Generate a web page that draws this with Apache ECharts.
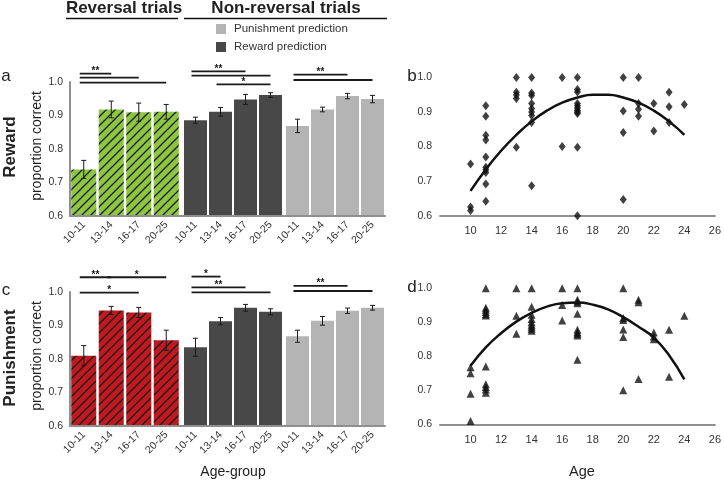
<!DOCTYPE html>
<html><head><meta charset="utf-8">
<script src="https://cdn.jsdelivr.net/npm/echarts@6/dist/echarts.min.js"></script>
<style>html,body{margin:0;padding:0;background:#fff}#c{width:724px;height:481px}</style>
</head><body><div id="c"></div>
<script>
// ---------- DATA ----------
const ageGroups = ['10-11', '13-14', '16-17', '20-25'];

// Panel a: Reward
const rewardReversal      = [0.739, 0.918, 0.910, 0.911];
const rewardReversalErr   = [0.027, 0.025, 0.027, 0.022];
const rewardRewardPred    = [0.886, 0.911, 0.948, 0.961];
const rewardRewardPredErr = [0.009, 0.013, 0.015, 0.007];
const rewardPunishPred    = [0.869, 0.918, 0.958, 0.949];
const rewardPunishPredErr = [0.020, 0.007, 0.008, 0.011];
// significance: [fromGroup, toGroup, level]
const sigRewardReversal      = [[0, 1, 1.025], [0, 2, 1.013], [0, 3, 0.998]];
const sigRewardReversalLbl   = ['**', '', ''];
const sigRewardRewardPred    = [[0, 2, 1.032], [0, 3, 1.019], [1, 3, 0.993]];
const sigRewardRewardPredLbl = ['**', '', '*'];
const sigRewardPunishPred    = [[0, 2, 1.022], [0, 3, 1.006]];
const sigRewardPunishPredLbl = ['**', ''];

// Panel c: Punishment
const punishReversal      = [0.810, 0.945, 0.939, 0.856];
const punishReversalErr   = [0.030, 0.012, 0.015, 0.030];
const punishRewardPred    = [0.835, 0.913, 0.953, 0.941];
const punishRewardPredErr = [0.027, 0.011, 0.010, 0.009];
const punishPunishPred    = [0.868, 0.914, 0.944, 0.953];
const punishPunishPredErr = [0.018, 0.013, 0.008, 0.007];
const sigPunishReversal      = [[0, 1, 1.044], [1, 3, 1.044], [0, 2, 0.998]];
const sigPunishReversalLbl   = ['**', '*', '*'];
const sigPunishRewardPred    = [[0, 1, 1.046], [0, 2, 1.014], [0, 3, 0.999]];
const sigPunishRewardPredLbl = ['*', '**', ''];
const sigPunishPunishPred    = [[0, 2, 1.018], [0, 3, 1.003]];
const sigPunishPunishPredLbl = ['**', ''];

// Panel b: Reward scatter (age, proportion correct)
const rewardAges   = [10,10,10, 11,11,11,11,11,11,11,11,11,11, 13,13,13,13,13, 14,14,14,14,14,14,14,14,14, 16,16, 17,17,17,17,17,17,17,17,17,17,17, 20,20,20,20, 21,21,21,21, 22,22, 23,23,23, 24];
const rewardScores = [0.750,0.625,0.615, 0.918,0.888,0.833,0.819,0.770,0.740,0.733,0.725,0.692,0.642, 1.000,0.957,0.949,0.939,0.798, 1.000,0.955,0.948,0.925,0.910,0.900,0.890,0.870,0.687, 1.000,0.800, 1.000,0.965,0.958,0.925,0.918,0.912,0.905,0.900,0.896,0.798,0.600, 1.000,0.903,0.841,0.647, 1.000,0.925,0.908,0.888, 0.925,0.845, 0.957,0.915,0.870, 0.922];
const rewardFitAges = [10,11,12,13,14,15,16,17,18,19,20,21,22,23,24];
const rewardFitVals = [0.672,0.734,0.788,0.834,0.873,0.904,0.927,0.942,0.950,0.950,0.942,0.927,0.904,0.873,0.834];

// Panel d: Punishment scatter
const punishAges   = [10,10,10,10, 11,11,11,11,11,11,11,11,11,11,11, 13,13,13, 14,14,14,14,14,14,14,14,14, 16,16,16, 17,17,17,17,17,17,17,17,17,17, 20,20,20,20,20,20, 21,21,21, 22,22,22, 23,23, 24];
const punishScores = [0.768,0.750,0.690,0.610, 1.000,0.943,0.937,0.930,0.924,0.920,0.770,0.718,0.710,0.702,0.693, 1.000,0.919,0.866, 1.000,0.946,0.922,0.910,0.900,0.893,0.887,0.881,0.875, 1.000,0.951,0.905, 1.000,0.966,0.961,0.956,0.925,0.878,0.871,0.866,0.861,0.790, 1.000,0.913,0.907,0.879,0.857,0.700, 0.966,0.959,0.733, 0.870,0.858,0.850, 0.878,0.740, 0.919];
const punishFitAges = [10,11,12,13,14,15,16,17,18,19,20,21,22,23,24];
const punishFitVals = [0.772,0.826,0.868,0.902,0.928,0.946,0.956,0.958,0.952,0.938,0.915,0.887,0.855,0.803,0.732];

const yTicks = [0.6, 0.7, 0.8, 0.9, 1.0];
const ageTicks = [10, 12, 14, 16, 18, 20, 22, 24, 26];

// ---------- STYLE ----------
const FONT = "'Liberation Sans', Arial, Helvetica, sans-serif";
const AXIS_GRAY = '#8f8f8f';
const TXT = '#333333';
const GREEN = '#8dc641';
const RED = '#c0191f';
const DARK = '#484848';
const LIGHT = '#b4b4b4';

function hatch(bg) {
  const s = 9;
  const c = document.createElement('canvas');
  c.width = s; c.height = s;
  const g = c.getContext('2d');
  g.fillStyle = bg; g.fillRect(0, 0, s, s);
  g.strokeStyle = '#1a1a1a'; g.lineWidth = 1.25;
  g.beginPath();
  g.moveTo(0, s); g.lineTo(s, 0);
  g.moveTo(-2, 2); g.lineTo(2, -2);
  g.moveTo(s - 2, s + 2); g.lineTo(s + 2, s - 2);
  g.stroke();
  return { image: c, repeat: 'repeat' };
}

function errorBar(params, api) {
  const x = api.value(0);
  const lo = api.coord([x, api.value(1)]);
  const hi = api.coord([x, api.value(2)]);
  const w = 2.5;
  const st = { stroke: '#1a1a1a', lineWidth: 1 };
  return { type: 'group', children: [
    { type: 'line', shape: { x1: lo[0], y1: lo[1], x2: hi[0], y2: hi[1] }, style: st },
    { type: 'line', shape: { x1: lo[0] - w, y1: lo[1], x2: lo[0] + w, y2: lo[1] }, style: st },
    { type: 'line', shape: { x1: hi[0] - w, y1: hi[1], x2: hi[0] + w, y2: hi[1] }, style: st }
  ]};
}

function makeSig(labels) {
  return function (params, api) {
    const y = api.value(2);
    const p1 = api.coord([api.value(0), y]);
    const p2 = api.coord([api.value(1), y]);
    const x1 = p1[0] - 4, x2 = p2[0];
    const children = [
      { type: 'line', shape: { x1: x1, y1: p1[1], x2: x2, y2: p1[1] }, style: { stroke: '#1a1a1a', lineWidth: 1.8 } }
    ];
    const lbl = labels[params.dataIndex];
    if (lbl) {
      children.push({ type: 'text', x: (x1 + x2) / 2, y: p1[1] - 2.5,
        style: { text: lbl, font: 'bold 10px ' + FONT, fill: '#1a1a1a', textAlign: 'center', textVerticalAlign: 'middle' } });
    }
    return { type: 'group', children: children };
  };
}

const grids = [], xAxes = [], yAxes = [], series = [];

function barPanel(top, sets) {
  const base = grids.length;
  grids.push({ left: 70, top: top, width: 315, height: 134 });
  xAxes.push({ gridIndex: base, type: 'category', data: [''], z: 5,
    axisLine: { show: true, onZero: false, lineStyle: { color: AXIS_GRAY, width: 2 } },
    axisTick: { show: false }, axisLabel: { show: false } });
  yAxes.push({ gridIndex: base, type: 'value', min: 0.6, max: 1.0, show: false });
  sets.forEach(function (s, k) {
    const g = grids.length;
    grids.push({ left: s.left, top: top, width: s.width, height: 134 });
    xAxes.push({ gridIndex: g, type: 'category', data: ageGroups,
      axisLine: { show: false }, axisTick: { show: false },
      axisLabel: { interval: 0, rotate: 45, fontSize: 10.5, color: TXT, margin: 7, fontFamily: FONT } });
    yAxes.push({ gridIndex: g, type: 'value', min: yTicks[0], max: yTicks[yTicks.length - 1], interval: 0.1,
      show: k === 0,
      axisLine: { show: true, lineStyle: { color: AXIS_GRAY, width: 2 } },
      axisTick: { show: false }, splitLine: { show: false },
      axisLabel: { fontSize: 10.5, color: TXT, margin: 7, fontFamily: FONT, formatter: function (v) { return v.toFixed(1); } } });
    series.push({ type: 'bar', name: s.name, xAxisIndex: g, yAxisIndex: g, data: s.values,
      barCategoryGap: s.gap, itemStyle: { color: s.color }, silent: true, z: 2 });
    series.push({ type: 'custom', xAxisIndex: g, yAxisIndex: g, silent: true, z: 4,
      data: s.values.map(function (v, i) { return [i, v - s.err[i], v + s.err[i]]; }),
      renderItem: errorBar });
    series.push({ type: 'custom', xAxisIndex: g, yAxisIndex: g, silent: true, z: 4, clip: false,
      data: s.sig, renderItem: makeSig(s.sigLbl) });
  });
}

function scatterPanel(top, height, ages, scores, fitAges, fitVals, symbol, size) {
  const g = grids.length;
  grids.push({ left: 440, top: top, width: 276, height: height });
  xAxes.push({ gridIndex: g, type: 'value', min: ageTicks[0] - 2, max: ageTicks[ageTicks.length - 1], interval: 2,
    axisLine: { show: true, onZero: false, lineStyle: { color: AXIS_GRAY, width: 2 } },
    axisTick: { show: false }, splitLine: { show: false },
    axisLabel: { fontSize: 11, color: TXT, margin: 10, fontFamily: FONT,
      formatter: function (v) { return ageTicks.indexOf(v) >= 0 ? String(v) : ''; } } });
  yAxes.push({ gridIndex: g, type: 'value', min: 0.6, max: 1.0, interval: 0.1,
    axisLine: { show: false }, axisTick: { show: false }, splitLine: { show: false },
    axisLabel: { fontSize: 10.5, color: TXT, margin: 8, fontFamily: FONT, formatter: function (v) { return v.toFixed(1); } } });
  series.push({ type: 'scatter', xAxisIndex: g, yAxisIndex: g, symbol: symbol, symbolSize: size, silent: true,
    itemStyle: { color: '#111' }, clip: false,
    data: ages.map(function (a, i) { return [a, scores[i]]; }) });
  series.push({ type: 'line', xAxisIndex: g, yAxisIndex: g, smooth: true, showSymbol: false, silent: true,
    lineStyle: { color: '#111', width: 2.5 },
    data: fitAges.map(function (a, i) { return [a, fitVals[i]]; }) });
}

barPanel(82, [
  { name: 'Reversal', values: rewardReversal, err: rewardReversalErr, sig: sigRewardReversal, sigLbl: sigRewardReversalLbl, color: hatch(GREEN), left: 70, width: 110, gap: '9%' },
  { name: 'Reward prediction', values: rewardRewardPred, err: rewardRewardPredErr, sig: sigRewardRewardPred, sigLbl: sigRewardRewardPredLbl, color: DARK, left: 183, width: 100, gap: '8%' },
  { name: 'Punishment prediction', values: rewardPunishPred, err: rewardPunishPredErr, sig: sigRewardPunishPred, sigLbl: sigRewardPunishPredLbl, color: LIGHT, left: 285, width: 100, gap: '8%' }
]);
scatterPanel(77.5, 138.2, rewardAges, rewardScores, rewardFitAges, rewardFitVals, 'diamond', [7, 9]);
barPanel(292, [
  { name: 'Reversal', values: punishReversal, err: punishReversalErr, sig: sigPunishReversal, sigLbl: sigPunishReversalLbl, color: hatch(RED), left: 70, width: 110, gap: '9%' },
  { name: 'Reward prediction', values: punishRewardPred, err: punishRewardPredErr, sig: sigPunishRewardPred, sigLbl: sigPunishRewardPredLbl, color: DARK, left: 183, width: 100, gap: '8%' },
  { name: 'Punishment prediction', values: punishPunishPred, err: punishPunishPredErr, sig: sigPunishPunishPred, sigLbl: sigPunishPunishPredLbl, color: LIGHT, left: 285, width: 100, gap: '8%' }
]);
scatterPanel(288.3, 136, punishAges, punishScores, punishFitAges, punishFitVals, 'triangle', [8, 8]);

function txt(x, y, text, font, opts) {
  return Object.assign({ type: 'text', x: x, y: y, silent: true,
    style: { text: text, font: font, fill: '#222', textAlign: 'center', textVerticalAlign: 'middle' } }, opts || {});
}
const bold17 = 'bold 17px ' + FONT;
const graphics = [
  txt(124, 8, 'Reversal trials', bold17),
  txt(286, 8, 'Non-reversal trials', bold17),
  { type: 'line', silent: true, shape: { x1: 66, y1: 18.5, x2: 178, y2: 18.5 }, style: { stroke: '#111', lineWidth: 1.5 } },
  { type: 'line', silent: true, shape: { x1: 184, y1: 18.5, x2: 387, y2: 18.5 }, style: { stroke: '#111', lineWidth: 1.5 } },
  txt(6, 76, 'a', '17px ' + FONT),
  txt(6, 290, 'c', '17px ' + FONT),
  txt(412, 76, 'b', '17px ' + FONT),
  txt(412, 287, 'd', '17px ' + FONT),
  txt(10, 147, 'Reward', bold17, { rotation: Math.PI / 2 }),
  txt(10, 358, 'Punishment', bold17, { rotation: Math.PI / 2 }),
  txt(37, 146, 'proportion correct', '14px ' + FONT, { rotation: Math.PI / 2 }),
  txt(37, 356, 'proportion correct', '14px ' + FONT, { rotation: Math.PI / 2 }),
  txt(233, 472, 'Age-group', '14px ' + FONT),
  txt(582, 472, 'Age', '14.5px ' + FONT)
];

const chart = echarts.init(document.getElementById('c'), null, { renderer: 'canvas' });
chart.setOption({
  animation: false,
  backgroundColor: '#fff',
  textStyle: { fontFamily: FONT },
  legend: {
    data: ['Punishment prediction', 'Reward prediction'],
    orient: 'vertical', left: 216, top: 23, padding: 0,
    itemWidth: 10, itemHeight: 10, itemGap: 6, icon: 'rect',
    selectedMode: false,
    textStyle: { fontSize: 11.5, color: TXT, fontFamily: FONT, padding: [0, 0, 0, 3], lineHeight: 10 }
  },
  grid: grids, xAxis: xAxes, yAxis: yAxes, series: series, graphic: graphics
});
</script></body></html>
